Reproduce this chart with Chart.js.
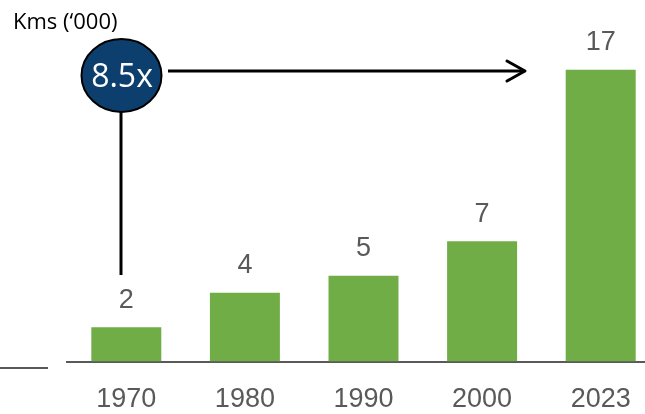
<!DOCTYPE html>
<html>
<head>
<meta charset="utf-8">
<script src="https://cdn.jsdelivr.net/npm/chart.js@4"></script>
<style>
  html, body { margin: 0; padding: 0; background: #fff; overflow: hidden; }
  #wrap { width: 645px; height: 414px; overflow: hidden; position: relative; }
  canvas { display: block; }
</style>
</head>
<body>
<div id="wrap"><canvas id="c" width="660" height="414"></canvas></div>
<script>
const categories = ['1970', '1980', '1990', '2000', '2023'];
const kms = [2, 4, 5, 7, 17];
const unitLabel = 'Kms (\u2018000)';
const growthLabel = '8.5x';

const GREEN = '#70AD47';
const GRAY = '#595959';

const decor = {
  id: 'decor',
  afterDatasetsDraw(chart) {
    const ctx = chart.ctx;
    const meta = chart.getDatasetMeta(0);
    ctx.save();
    // value labels
    ctx.fillStyle = GRAY;
    ctx.font = '27px "Liberation Sans", Arial, sans-serif';
    ctx.textAlign = 'center';
    ctx.textBaseline = 'middle';
    meta.data.forEach((bar, i) => {
      ctx.fillText(String(kms[i]), bar.x, bar.y - 27);
    });

    // short left line
    ctx.strokeStyle = GRAY;
    ctx.lineWidth = 2;
    ctx.beginPath();
    ctx.moveTo(0, 368);
    ctx.lineTo(48, 368);
    ctx.stroke();

    // unit label
    ctx.fillStyle = '#000';
    ctx.font = '22px "Open Sans", sans-serif';
    ctx.textAlign = 'left';
    ctx.textBaseline = 'alphabetic';
    ctx.fillText(unitLabel, 13, 29);

    // vertical connector
    ctx.strokeStyle = '#000';
    ctx.lineWidth = 3;
    ctx.beginPath();
    ctx.moveTo(121, 110);
    ctx.lineTo(121, 275);
    ctx.stroke();

    // horizontal arrow
    ctx.beginPath();
    ctx.moveTo(168, 71);
    ctx.lineTo(524, 71);
    ctx.stroke();
    ctx.lineJoin = 'round';
    ctx.lineCap = 'round';
    ctx.beginPath();
    ctx.moveTo(507, 61);
    ctx.lineTo(525, 71);
    ctx.lineTo(507, 81);
    ctx.stroke();

    // circle
    ctx.beginPath();
    ctx.ellipse(121.5, 75.5, 40, 36.5, 0, 0, Math.PI * 2);
    ctx.fillStyle = '#0C3F6E';
    ctx.fill();
    ctx.lineWidth = 2;
    ctx.strokeStyle = '#000';
    ctx.stroke();

    ctx.fillStyle = '#fff';
    ctx.font = '32px "Open Sans", sans-serif';
    ctx.textAlign = 'center';
    ctx.textBaseline = 'middle';
    ctx.fillText(growthLabel, 122, 78);
    ctx.restore();
  }
};

new Chart(document.getElementById('c'), {
  type: 'bar',
  data: {
    labels: categories,
    datasets: [{
      data: kms,
      backgroundColor: GREEN,
      borderWidth: 0,
      categoryPercentage: 1.0,
      barPercentage: 0.59
    }]
  },
  options: {
    responsive: false,
    animation: false,
    devicePixelRatio: 1,
    layout: { padding: { left: 67, top: 1, right: 0, bottom: 0 } },
    plugins: { legend: { display: false }, tooltip: { enabled: false } },
    scales: {
      x: {
        grid: { display: false, drawTicks: false },
        border: { display: true, color: GRAY, width: 2 },
        ticks: {
          color: GRAY,
          font: { family: '"Liberation Sans", Arial, sans-serif', size: 27 },
          padding: 22,
          maxRotation: 0
        },
        afterFit(scale) { scale.height = 52.5; }
      },
      y: {
        display: false,
        min: 0,
        max: 21
      }
    }
  },
  plugins: [decor]
});
</script>
</body>
</html>
